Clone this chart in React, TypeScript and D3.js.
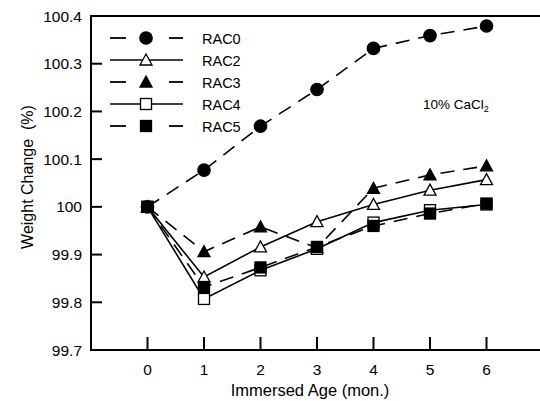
import React, { useEffect, useRef } from "react";
import * as d3 from "d3";

const ages = [0, 1, 2, 3, 4, 5, 6];
const seriesNames = ["RAC0", "RAC2", "RAC3", "RAC4", "RAC5"];
const rac0 = [100, 100.077, 100.169, 100.246, 100.332, 100.359, 100.379];
const rac2 = [100, 99.853, 99.916, 99.969, 100.005, 100.035, 100.057];
const rac3 = [100, 99.906, 99.958, 99.914, 100.039, 100.067, 100.086];
const rac4 = [100, 99.807, 99.867, 99.912, 99.967, 99.993, 100.005];
const rac5 = [100, 99.832, 99.873, 99.916, 99.96, 99.986, 100.007];
const yTicks = [99.7, 99.8, 99.9, 100, 100.1, 100.2, 100.3, 100.4];

const seriesValues = [rac0, rac2, rac3, rac4, rac5];
const dashed = [true, false, true, false, true];
const markerShape = ["circle", "triangle", "triangle", "square", "square"];
const markerFilled = [true, false, true, false, true];

export default function App() {
  const svgRef = useRef<SVGSVGElement>(null);

  useEffect(() => {
    const svg = d3.select(svgRef.current);
    svg.selectAll("*").remove();
    const font = "'Liberation Sans', Arial, sans-serif";

    const x = d3.scaleLinear().domain([-1, 7]).range([91, 543]);
    const y = d3.scaleLinear().domain([99.7, 100.4]).range([350, 16]);

    const g = svg.append("g");

    const drawMarker = (sel: any, shape: string, filled: boolean, cx: number, cy: number) => {
      const fill = filled ? "#000" : "#fff";
      if (shape === "circle") {
        sel.append("circle").attr("cx", cx).attr("cy", cy).attr("r", 6.2)
          .attr("fill", fill).attr("stroke", "#000").attr("stroke-width", 1.3);
      } else if (shape === "square") {
        sel.append("rect").attr("x", cx - 5.5).attr("y", cy - 5.5)
          .attr("width", 11).attr("height", 11)
          .attr("fill", fill).attr("stroke", "#000").attr("stroke-width", 1.3);
      } else {
        sel.append("path")
          .attr("d", `M${cx},${cy - 6}L${cx + 6},${cy + 5}L${cx - 6},${cy + 5}Z`)
          .attr("fill", fill).attr("stroke", "#000").attr("stroke-width", 1.3);
      }
    };

    const line = d3.line<number>()
      .x((d, i) => x(ages[i]))
      .y((d) => y(d));

    // lines
    seriesValues.forEach((vals, k) => {
      g.append("path")
        .attr("d", line(vals))
        .attr("fill", "none")
        .attr("stroke", "#000")
        .attr("stroke-width", 1.6)
        .attr("stroke-dasharray", dashed[k] ? "14,9" : null);
    });

    // markers
    seriesValues.forEach((vals, k) => {
      vals.forEach((v, i) => {
        drawMarker(g, markerShape[k], markerFilled[k], x(ages[i]), y(v));
      });
    });

    // frame
    g.append("path")
      .attr("d", `M543,${y(100.4)}H${x(-1)}V${y(99.7)}H543`)
      .attr("fill", "none").attr("stroke", "#000").attr("stroke-width", 2);

    // x ticks (inward)
    ages.forEach((a) => {
      g.append("line").attr("x1", x(a)).attr("x2", x(a))
        .attr("y1", y(99.7)).attr("y2", y(99.7) - 13)
        .attr("stroke", "#000").attr("stroke-width", 2);
      g.append("text").attr("x", x(a)).attr("y", 375)
        .attr("text-anchor", "middle").attr("font-family", font)
        .attr("font-size", 15.5).text(a);
    });

    // y ticks (inward)
    yTicks.forEach((t) => {
      g.append("line").attr("x1", x(-1)).attr("x2", x(-1) + 11)
        .attr("y1", y(t)).attr("y2", y(t))
        .attr("stroke", "#000").attr("stroke-width", 2);
      g.append("text").attr("x", 82).attr("y", y(t) + 5.5)
        .attr("text-anchor", "end").attr("font-family", font)
        .attr("font-size", 15.5).text(d3.format(".4~f")(t));
    });

    // axis titles
    g.append("text").attr("x", 310).attr("y", 396)
      .attr("text-anchor", "middle").attr("font-family", font)
      .attr("font-size", 16.5).text("Immersed Age (mon.)");
    g.append("text")
      .attr("transform", `translate(33,177) rotate(-90)`)
      .attr("text-anchor", "middle").attr("font-family", font)
      .attr("font-size", 16).attr("xml:space", "preserve")
      .text("Weight Change  (%)");

    // annotation
    const ann = g.append("text").attr("x", 423).attr("y", 109)
      .attr("font-family", font).attr("font-size", 13.5);
    ann.append("tspan").text("10% CaCl");
    ann.append("tspan").attr("font-size", 9).attr("dy", 3).text("2");

    // legend
    const legend = g.append("g");
    seriesNames.forEach((name, k) => {
      const ly = 38 + k * 22;
      if (dashed[k]) {
        legend.append("line").attr("x1", 110).attr("x2", 126)
          .attr("y1", ly).attr("y2", ly)
          .attr("stroke", "#000").attr("stroke-width", 1.8);
        legend.append("line").attr("x1", 169).attr("x2", 183)
          .attr("y1", ly).attr("y2", ly)
          .attr("stroke", "#000").attr("stroke-width", 1.8);
      } else {
        legend.append("line").attr("x1", 110).attr("x2", 183)
          .attr("y1", ly).attr("y2", ly)
          .attr("stroke", "#000").attr("stroke-width", 1.6);
      }
      drawMarker(legend, markerShape[k], markerFilled[k], 146, ly);
      legend.append("text").attr("x", 202).attr("y", ly + 5.5)
        .attr("font-family", font).attr("font-size", 14.5).text(name);
    });
  }, []);

  return (
    <svg ref={svgRef} width={540} height={401}
      style={{ position: "absolute", left: 0, top: 0, background: "#fff" }} />
  );
}
